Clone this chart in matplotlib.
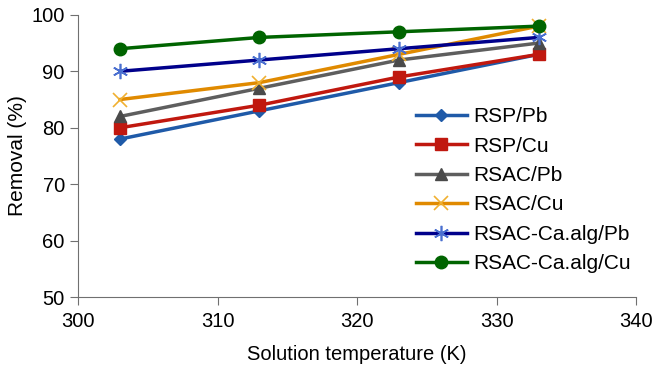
import matplotlib
matplotlib.use("Agg")
import matplotlib.pyplot as plt

plt.rcParams['font.family'] = ['Liberation Sans', 'DejaVu Sans']

temps = [303, 313, 323, 333]
rsp_pb = [78, 83, 88, 93]
rsp_cu = [80, 84, 89, 93]
rsac_pb = [82, 87, 92, 95]
rsac_cu = [85, 88, 93, 98]
rsac_ca_pb = [90, 92, 94, 96]
rsac_ca_cu = [94, 96, 97, 98]

labels = ['RSP/Pb', 'RSP/Cu', 'RSAC/Pb', 'RSAC/Cu', 'RSAC-Ca.alg/Pb', 'RSAC-Ca.alg/Cu']
series = [rsp_pb, rsp_cu, rsac_pb, rsac_cu, rsac_ca_pb, rsac_ca_cu]
styles = [
    dict(color='#1f5aa8', marker='D', ms=6.5, mfc='#1f5aa8', mec='#1f5aa8'),
    dict(color='#c0180f', marker='s', ms=8, mfc='#c0180f', mec='#c0180f'),
    dict(color='#5e5e5e', marker='^', ms=9, mfc='#4a4a4a', mec='#4a4a4a'),
    dict(color='#e08a00', marker='x', ms=10, mfc='none', mec='#f0b030', mew=1.2),
    dict(color='#00008b', marker=(6, 2, 0), ms=11, mfc='none', mec='#4a6fd0', mew=1.2),
    dict(color='#006400', marker='o', ms=9, mfc='#006400', mec='#006400'),
]

fig = plt.figure(figsize=(6.56, 3.71), dpi=100)
ax = fig.add_axes([0.119, 0.199, 0.851, 0.761])
for lab, ys, st in zip(labels, series, styles):
    ax.plot(temps, ys, lw=2.5, label=lab, **st)

ax.set_xlim(300, 340)
ax.set_ylim(50, 100)
ax.set_xticks([300, 310, 320, 330, 340])
ax.set_yticks([50, 60, 70, 80, 90, 100])
for s in ['top', 'right']:
    ax.spines[s].set_visible(False)
for s in ['left', 'bottom']:
    ax.spines[s].set_color('#707070')
ax.tick_params(colors='#707070', labelcolor='black', labelsize=14.5, length=6)
ax.tick_params(axis='x', pad=5)
ax.set_xlabel('Solution temperature (K)', fontsize=14.5, labelpad=10)
ax.set_ylabel('Removal (%)', fontsize=15, labelpad=3)
fig.legend(loc='upper left', bbox_to_anchor=(0.634, 0.711), frameon=False, fontsize=15,
           handlelength=2.45, labelspacing=0.5, handletextpad=0.3, borderaxespad=0,
           borderpad=0)

fig.savefig('out.png', dpi=100)
